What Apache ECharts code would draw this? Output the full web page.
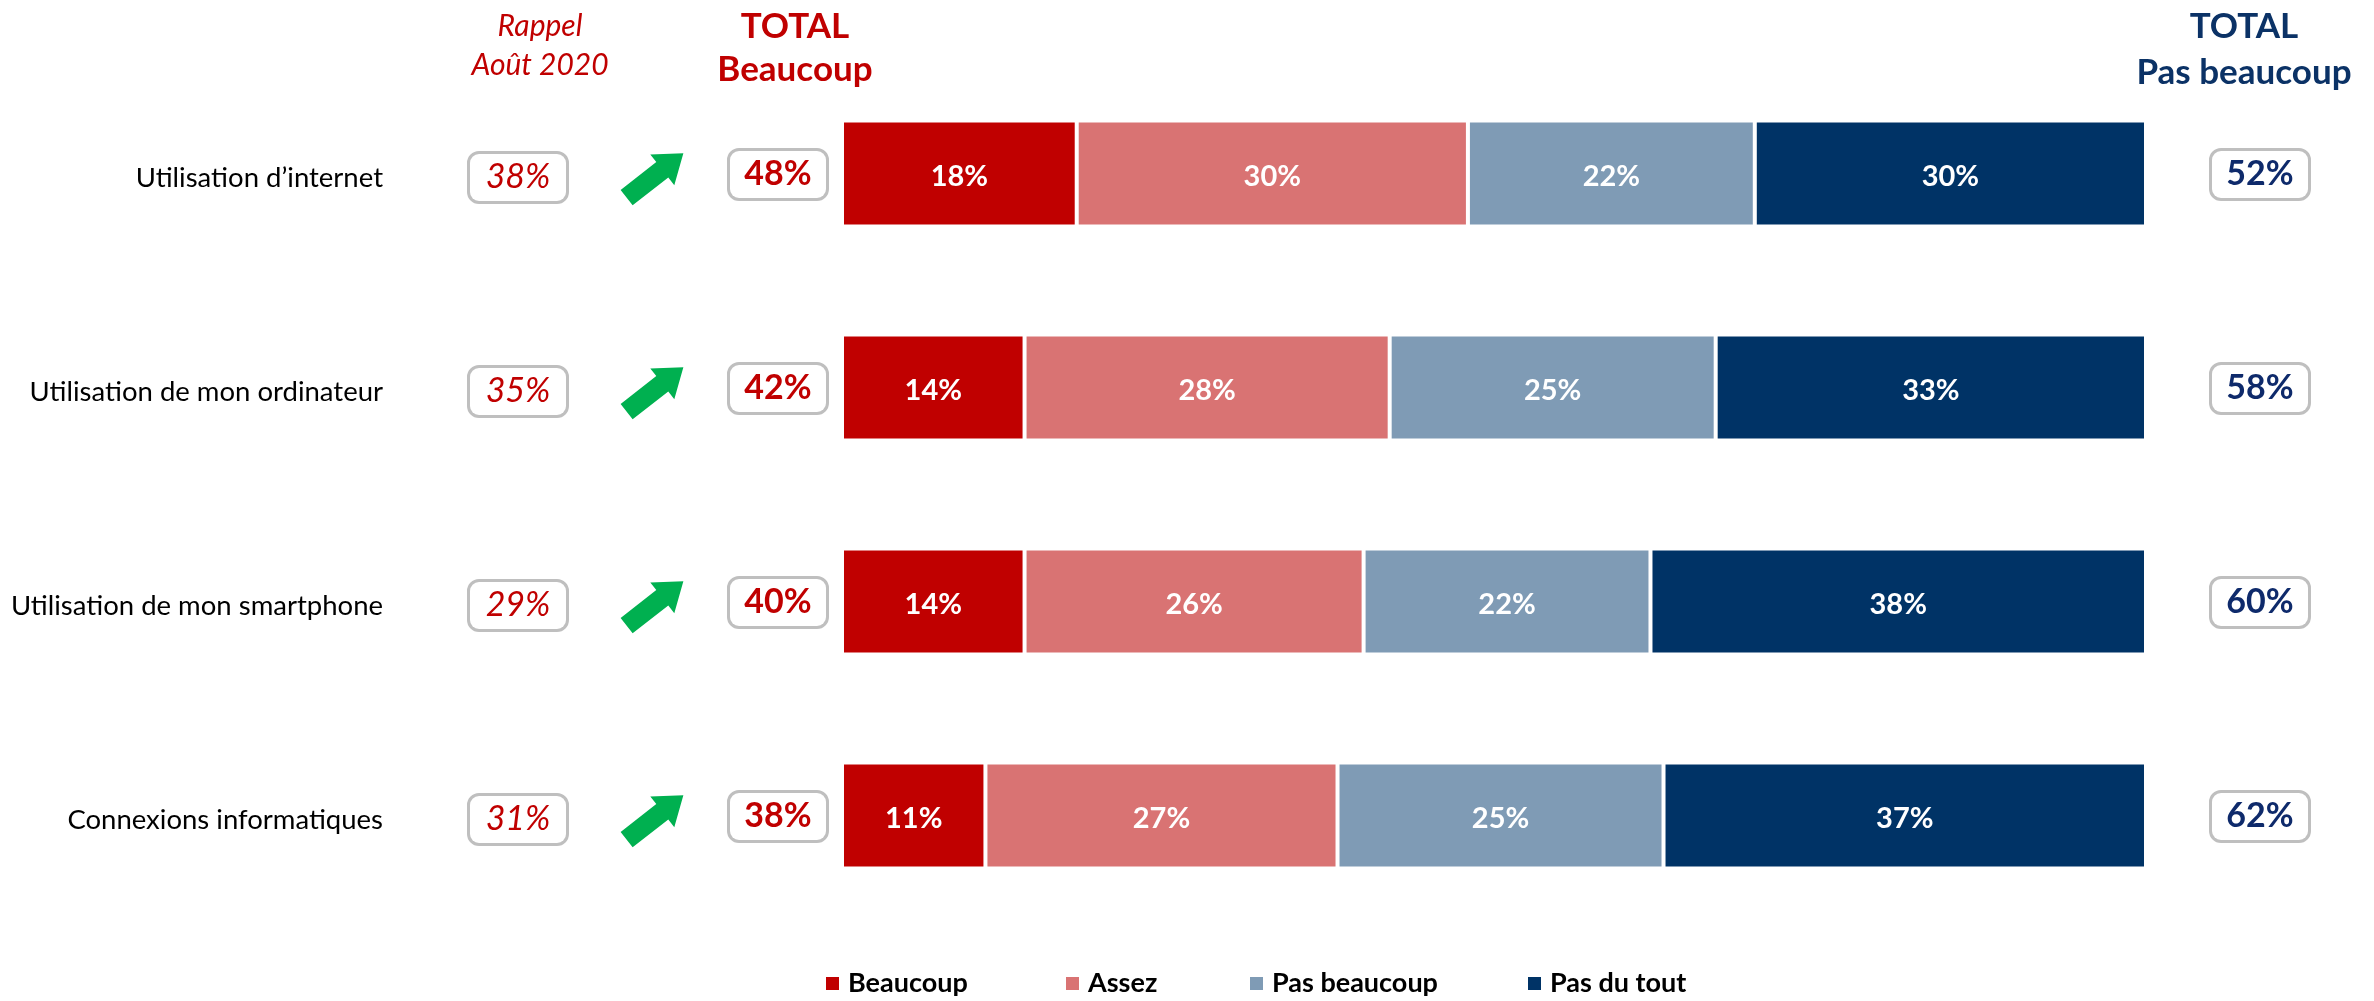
<!DOCTYPE html>
<html>
<head>
<meta charset="utf-8">
<script src="https://cdn.jsdelivr.net/npm/echarts@6/dist/echarts.min.js"></script>
<style>
html,body{margin:0;padding:0;background:#fff;}
#chart{width:2374px;height:1001px;}
</style>
</head>
<body>
<div id="chart"></div>
<script>
// ---------- DATA ----------
const categories = ['Utilisation d\u2019internet', 'Utilisation de mon ordinateur', 'Utilisation de mon smartphone', 'Connexions informatiques'];
const seriesNames = ['Beaucoup', 'Assez', 'Pas beaucoup', 'Pas du tout'];
const beaucoup    = [18, 14, 14, 11];
const assez       = [30, 28, 26, 27];
const pasBeaucoup = [22, 25, 22, 25];
const pasDuTout   = [30, 33, 38, 37];
const rappel2020       = [38, 35, 29, 31];
const totalBeaucoup    = [48, 42, 40, 38];
const totalPasBeaucoup = [52, 58, 60, 62];

// ---------- STYLE ----------
const FONT = 'Lato';
const colors = ['#C00000', '#D97373', '#7F9BB5', '#003366'];
const TOP = 66.5, BOTTOM = 78.5;

const chart = echarts.init(document.getElementById('chart'), null, {renderer: 'canvas'});

function hiddenX(idx) {
  return {gridIndex: idx, type: 'value', min: -1, max: 1, show: false};
}
function hiddenY(idx) {
  return {gridIndex: idx, type: 'category', data: categories, inverse: true, show: false};
}
function boxSeries(gridIdx, values, textColor, italic, bold) {
  return {
    type: 'scatter', xAxisIndex: gridIdx, yAxisIndex: gridIdx,
    symbolSize: 1, itemStyle: {color: 'rgba(0,0,0,0)', opacity: 1},
    silent: true,
    data: values.map((v, i) => [0, i, v]),
    label: {
      show: true, position: 'inside',
      formatter: p => p.value[2] + '%',
      color: textColor, fontFamily: FONT, fontSize: 34,
      fontStyle: italic ? 'italic' : 'normal',
      fontWeight: bold ? 'bold' : 'normal',
      backgroundColor: '#fff', borderColor: '#BFBFBF', borderWidth: 3, borderRadius: 9,
      width: 96, height: 47, lineHeight: 47, align: 'center', verticalAlign: 'middle'
    }
  };
}

const arrowPath = 'path://M0,-9.5 L44,-9.5 L44,-19 L70,0 L44,19 L44,9.5 L0,9.5 Z';

const barSeries = [beaucoup, assez, pasBeaucoup, pasDuTout].map((arr, k) => ({
  name: seriesNames[k], type: 'bar', stack: 'total',
  xAxisIndex: 0, yAxisIndex: 0, barWidth: 106,
  itemStyle: {color: colors[k], borderColor: '#fff', borderWidth: 2},
  label: {show: true, position: 'inside', offset: [0, 3], formatter: '{c}%', color: '#fff', fontFamily: FONT, fontWeight: 'bold', fontSize: 29},
  data: arr
}));

const legendLefts = [824, 1064, 1248, 1526];

const option = {
  backgroundColor: '#fff',
  animation: false,
  title: [
    {text: 'Rappel\nAoût 2020', left: 540, top: 7, textAlign: 'center', padding: 0,
     textStyle: {fontFamily: FONT, fontStyle: 'italic', fontWeight: 'normal', fontSize: 30, color: '#C00000', lineHeight: 39}},
    {text: 'TOTAL\nBeaucoup', left: 795, top: 5, textAlign: 'center', padding: 0,
     textStyle: {fontFamily: FONT, fontWeight: 'bold', fontSize: 35, color: '#C00000', lineHeight: 43}},
    {text: 'TOTAL\nPas beaucoup', left: 2244, top: 4, textAlign: 'center', padding: 0,
     textStyle: {fontFamily: FONT, fontWeight: 'bold', fontSize: 35, color: '#0B3266', lineHeight: 46}}
  ],
  legend: seriesNames.map((n, k) => ({
    data: [n], left: legendLefts[k], top: 970, padding: 0,
    itemWidth: 15, itemHeight: 15, itemGap: 0, icon: 'rect', selectedMode: false,
    textStyle: {fontFamily: FONT, fontWeight: 'bold', fontSize: 27, color: '#000', padding: [0, 0, 0, 3]}
  })),
  grid: [
    {left: 842, right: 228, top: TOP, bottom: BOTTOM},
    {left: 468, width: 100, top: TOP + 4, bottom: BOTTOM - 4},
    {left: 605, width: 100, top: TOP + 2, bottom: BOTTOM - 2},
    {left: 728, width: 100, top: TOP + 1, bottom: BOTTOM - 1},
    {left: 2210, width: 100, top: TOP + 1, bottom: BOTTOM - 1},
    {left: 842, right: 228, top: TOP + 5, bottom: BOTTOM - 5}
  ],
  xAxis: [
    {gridIndex: 0, type: 'value', min: 0, max: 100, show: false},
    hiddenX(1), hiddenX(2), hiddenX(3), hiddenX(4), hiddenX(5)
  ],
  yAxis: [
    hiddenY(0),
    hiddenY(1), hiddenY(2), hiddenY(3), hiddenY(4),
    {gridIndex: 5, type: 'category', data: categories, inverse: true,
     axisLine: {show: false}, axisTick: {show: false}, splitLine: {show: false},
     axisLabel: {margin: 459, color: '#000', fontFamily: FONT, fontSize: 27.5}}
  ],
  series: [
    ...barSeries,
    boxSeries(1, rappel2020, '#C00000', true, false),
    {
      type: 'scatter', xAxisIndex: 2, yAxisIndex: 2, silent: true,
      symbol: arrowPath, symbolSize: [72, 39], symbolRotate: 38,
      itemStyle: {color: '#00B050', opacity: 1},
      data: totalBeaucoup.map((v, i) => v > rappel2020[i] ? [0, i] : null).filter(d => d)
    },
    boxSeries(3, totalBeaucoup, '#C00000', false, true),
    boxSeries(4, totalPasBeaucoup, '#0E2A6B', false, true)
  ]
};
chart.setOption(option);
</script>
</body>
</html>
